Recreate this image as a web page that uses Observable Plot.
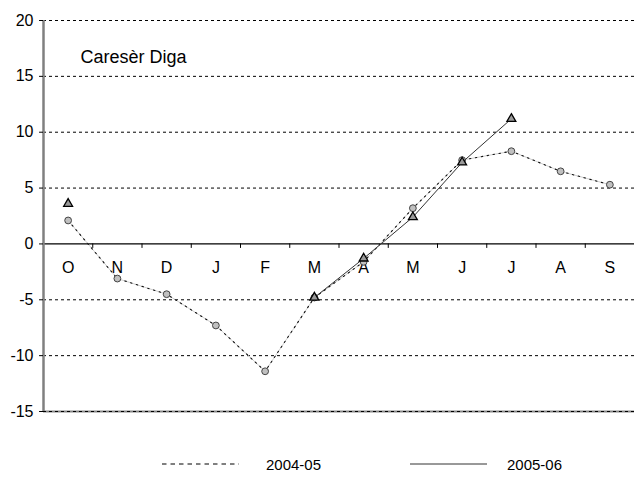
<!DOCTYPE html>
<html>
<head>
<meta charset="utf-8">
<script src="https://cdn.jsdelivr.net/npm/d3@7"></script>
<script src="https://cdn.jsdelivr.net/npm/@observablehq/plot@0.6"></script>
<style>
  html, body { margin: 0; padding: 0; background: #fff; }
  body { width: 634px; font-family: "Liberation Sans", Arial, sans-serif; }
  #legend { position: relative; height: 41px; font-size: 15px; color: #000; }
  #legend .item { position: absolute; top: 16px; display: flex; align-items: center; height: 16px; }
  #legend svg { display: block; }
</style>
</head>
<body>
<div id="chart"></div>
<div id="legend"></div>
<script>
// Monthly anomalies, hydrological year October–September
const months = ["O", "N", "D", "J", "F", "M", "A", "M", "J", "J", "A", "S"];
const series2004 = [2.1, -3.1, -4.5, -7.3, -11.4, -4.8, -1.6, 3.2, 7.5, 8.3, 6.5, 5.3];
const series2005 = [3.6, null, null, null, null, -4.8, -1.3, 2.4, 7.3, 11.2, null, null];
const yTicks = [-15, -10, -5, 0, 5, 10, 15, 20];
const gridValues = [-10, -5, 5, 10, 15, 20];
const seriesNames = ["2004-05", "2005-06"];
const stationName = "Caresèr Diga";

const rows2004 = months.map((m, i) => ({i, v: series2004[i]}));
const rows2005 = months.map((m, i) => ({i, v: series2005[i]}));
const boundaries = months.slice(1).map((m, i) => i + 0.5);

const chart = Plot.plot({
  width: 634,
  height: 440,
  marginTop: 20,
  marginBottom: 29,
  marginLeft: 43,
  marginRight: 0,
  style: {fontFamily: "Liberation Sans, Arial, sans-serif", fontSize: "15px", color: "#000", background: "#fff"},
  x: {domain: [-0.5, 11.5], axis: null},
  y: {domain: [-15, 20], axis: null},
  marks: [
    // dashed gridlines
    Plot.ruleY(gridValues, {stroke: "#000", strokeDasharray: "3,3", strokeWidth: 1}),
    // bottom edge
    Plot.ruleY([-15], {stroke: "#888", strokeWidth: 2}),
    Plot.ruleY([-15], {stroke: "#000", strokeDasharray: "3,3", strokeWidth: 1}),
    // zero line with category separators
    Plot.ruleY([0], {stroke: "#000", strokeWidth: 1.2}),
    Plot.ruleX(boundaries, {y1: 0, y2: -0.4, stroke: "#000", strokeWidth: 1}),
    Plot.text(months, {x: (d, i) => i, y: 0, text: d => d, dy: 24, fontSize: 16}),
    // left axis line, ticks and labels
    Plot.ruleX([-0.5], {y1: -15, y2: 20, stroke: "#808080", strokeWidth: 2.5}),
    Plot.ruleY(yTicks, {x1: -0.5, x2: -0.58, stroke: "#000", strokeWidth: 1}),
    Plot.text(yTicks, {y: d => d, frameAnchor: "left", dx: -10, textAnchor: "end", fontSize: 16}),
    // 2004-05
    Plot.line(rows2004, {x: "i", y: "v", stroke: "#cfcfcf", strokeWidth: 1}),
    Plot.line(rows2004, {x: "i", y: "v", stroke: "#111", strokeWidth: 1.1, strokeDasharray: "1.5,4.5"}),
    Plot.dot(rows2004, {x: "i", y: "v", r: 3.4, fill: "#c0c0c0", stroke: "#444", strokeWidth: 1}),
    // 2005-06
    Plot.line(rows2005, {x: "i", y: "v", stroke: "#333", strokeWidth: 1}),
    Plot.dot(rows2005.filter(d => d.v != null), {x: "i", y: "v", symbol: "triangle", r: 3.3, fill: "#9a9a9a", stroke: "#000", strokeWidth: 1.3}),
    // station name
    Plot.text([stationName], {frameAnchor: "top-left", dx: 37, dy: 30, textAnchor: "start", fontSize: 18})
  ]
});
document.getElementById("chart").appendChild(chart);

// Legend below the plot
const legend = document.getElementById("legend");
const items = [
  {name: seriesNames[0], dash: "4.5,4", left: 162, textLeft: 266},
  {name: seriesNames[1], dash: null, left: 410, textLeft: 507}
];
for (const it of items) {
  const line = document.createElement("div");
  line.className = "item";
  line.style.left = it.left + "px";
  line.innerHTML = `<svg width="77" height="16"><line x1="0" x2="77" y1="8" y2="8" stroke="${it.dash ? "#000" : "#333"}" stroke-width="1" ${it.dash ? `stroke-dasharray="${it.dash}"` : ""}/></svg>`;
  legend.appendChild(line);
  const label = document.createElement("div");
  label.className = "item";
  label.style.left = it.textLeft + "px";
  label.textContent = it.name;
  legend.appendChild(label);
}
</script>
</body>
</html>
